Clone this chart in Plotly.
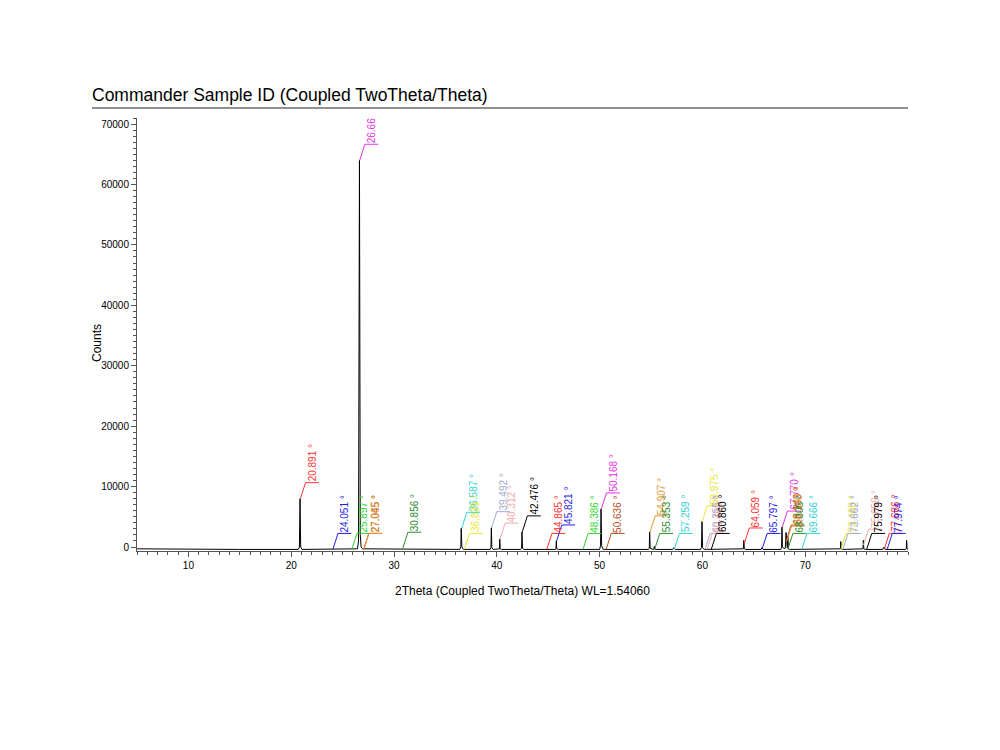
import plotly.graph_objects as go

# ---------------- data ----------------
# diffraction profile (2Theta in degrees, counts)
two_theta = [5.0, 10.0, 15.0, 20.70, 20.80, 20.86, 20.92, 21.05,
             26.45, 26.55, 26.64, 26.72, 26.80, 26.95,
             36.40, 36.50, 36.54, 36.60, 36.75,
             39.35, 39.43, 39.47, 39.52, 39.65,
             40.18, 40.26, 40.29, 40.33, 40.45,
             42.33, 42.41, 42.45, 42.50, 42.65,
             45.68, 45.76, 45.79, 45.83, 46.00,
             50.00, 50.09, 50.14, 50.20, 50.35,
             54.75, 54.83, 54.87, 54.92, 55.20, 55.29, 55.32, 55.37, 55.50,
             57.10, 57.23, 57.35,
             59.82, 59.91, 59.96, 60.02, 60.15,
             63.90, 63.99, 64.03, 64.08, 64.20,
             65.70, 65.79, 65.90,
             67.62, 67.70, 67.74, 67.79, 67.95, 68.06, 68.14, 68.20, 68.26, 68.31, 68.37, 68.50,
             73.35, 73.43, 73.46, 73.50, 73.65,
             75.55, 75.62, 75.66, 75.70, 75.85,
             77.55, 77.67, 77.80,
             79.75, 79.83, 79.87, 79.91, 80.0]
counts = [-300, -380, -400, -400, 0, 8000, 0, -400,
          -300, 1000, 64000, 2000, 0, -300,
          -400, 0, 3100, 0, -400,
          -400, -100, 3200, -100, -400,
          -400, -300, 1300, -300, -400,
          -400, -200, 2500, -200, -400,
          -400, -300, 1000, -300, -400,
          -400, 200, 6300, 200, -400,
          -400, -200, 2500, -200, -400, -350, 100, -350, -400,
          -400, -100, -400,
          -400, -100, 4200, -100, -400,
          -400, -300, 1100, -300, -400,
          -400, -100, -400,
          -400, -100, 3300, 0, -300, -200, 2400, 0, -100, 1800, -300, -400,
          -400, -300, 900, -300, -400,
          -400, -300, 1100, -300, -400,
          -400, 0, -400,
          -400, -300, 1100, -300, -400]

# peak labels
label_pos = [20.891, 24.051, 25.897, 26.664, 27.045, 27.065, 30.856,
             36.587, 36.835, 39.492, 40.312, 42.476,
             44.865, 45.821, 48.386, 50.168, 50.636, 54.907, 55.353,
             57.259, 59.975, 60.255, 60.460, 60.860,
             64.059, 65.797, 67.770, 68.143, 68.180, 68.305, 69.666,
             73.468, 73.662, 75.659, 75.979, 77.686, 77.974]
label_text = ["20.891 °", "24.051 °", "25.897 °", "26.66", "27.045 °", "27.065 °", "30.856 °",
              "36.587 °", "36.835 °", "39.492 °", "40.312 °", "42.476 °",
              "44.865 °", "45.821 °", "48.386 °", "50.168 °", "50.636 °", "54.907 °", "55.353 °",
              "57.259 °", "59.975 °", "60.255 °", "60.460 °", "60.860 °",
              "64.059 °", "65.797 °", "67.770 °", "68.143 °", "68.180 °", "68.305 °", "69.666 °",
              "73.468 °", "73.662 °", "75.659 °", "75.979 °", "77.686 °", "77.974 °"]
label_start = [8000, -400, -400, 64000, -400, -400, -200,
               3100, -400, 3200, 1300, 2500,
               -400, 1000, -400, 6300, -400, 2500, -400,
               -400, 4200, -400, -400, -400,
               500, -400, 3300, 1000, 800, -400, -400,
               -400, -400, 300, -400, -400, -400]

palette = ["#ff3030", "#1e1ee6", "#32d232", "#e632e6", "#b4501e", "#e69632",
           "#2d8c2d", "#32d2d2", "#e6e632", "#a0aad2", "#f0aaaa", "#000000"]
label_color_idx = [0, 1, 2, 3, 4, 5, 6,
                   7, 8, 9, 10, 11,
                   0, 1, 2, 3, 4, 5, 6,
                   7, 8, 9, 10, 11,
                   0, 1, 3, 4, 5, 6, 7,
                   8, 9, 10, 11, 0, 1]

# ---------------- figure ----------------
FONT = "Liberation Sans, Arial, Helvetica, sans-serif"
fig = go.Figure()

fig.add_trace(go.Scatter(x=two_theta, y=counts, mode="lines",
                         line=dict(color="#000000", width=1), showlegend=False,
                         hoverinfo="skip"))

SLANT_DX = 0.5
SLANT_DY = 2650
HOR_LEN = 1.3
TEXT_DX = 1.15

annotations = []
for pos, txt, st, ci in zip(label_pos, label_text, label_start, label_color_idx):
    col = palette[ci]
    h = st + SLANT_DY
    fig.add_trace(go.Scatter(x=[pos, pos + SLANT_DX, pos + SLANT_DX + HOR_LEN],
                             y=[st, h, h], mode="lines",
                             line=dict(color=col, width=1), showlegend=False,
                             hoverinfo="skip"))
    annotations.append(dict(x=pos + TEXT_DX, y=h, xref="x", yref="y", text=txt,
                            showarrow=False, textangle=-90, xanchor="center",
                            yanchor="bottom", font=dict(family=FONT, size=10, color=col),
                            borderpad=0))

L, R, T, B = 137, 92, 118, 199
W, H = 1000, 750
pw, ph = W - L - R, H - T - B


def px(xp):
    return (xp - L) / pw


def py(yp):
    return (H - B - yp) / ph


annotations.append(dict(x=px(90), y=py(95), xref="paper", yref="paper",
                        text="Commander Sample ID (Coupled TwoTheta/Theta)",
                        showarrow=False, xanchor="left", yanchor="middle",
                        font=dict(family=FONT, size=17.5, color="#000000")))
annotations.append(dict(x=0.5, y=py(591), xref="paper", yref="paper",
                        text="2Theta (Coupled TwoTheta/Theta) WL=1.54060",
                        showarrow=False, xanchor="center", yanchor="middle",
                        font=dict(family=FONT, size=12, color="#000000")))
annotations.append(dict(x=px(97), y=py(343), xref="paper", yref="paper",
                        text="Counts", textangle=-90,
                        showarrow=False, xanchor="center", yanchor="middle",
                        font=dict(family=FONT, size=12, color="#000000")))

fig.update_layout(
    width=W, height=H,
    margin=dict(l=L, r=R, t=T, b=B, pad=0),
    paper_bgcolor="white", plot_bgcolor="white",
    showlegend=False,
    annotations=annotations,
    shapes=[dict(type="line", xref="paper", yref="paper",
                 x0=px(92), x1=px(908), y0=py(108), y1=py(108),
                 line=dict(color="#222222", width=1))],
    xaxis=dict(range=[5, 80], tickvals=[10, 20, 30, 40, 50, 60, 70],
               ticks="outside", ticklen=5, tickcolor="#555555", tickwidth=1,
               showline=True, linecolor="#555555", linewidth=1,
               showgrid=False, zeroline=False,
               tickfont=dict(family=FONT, size=10, color="#000000"),
               minor=dict(dtick=1, tick0=0, ticks="outside", ticklen=3,
                          tickcolor="#555555", showgrid=False)),
    yaxis=dict(range=[-660, 71000], tickvals=[0, 10000, 20000, 30000, 40000, 50000, 60000, 70000],
               ticktext=["0", "10000", "20000", "30000", "40000", "50000", "60000", "70000"],
               ticks="outside", ticklen=5, tickcolor="#555555", tickwidth=1,
               showline=True, linecolor="#555555", linewidth=1,
               showgrid=False, zeroline=False,
               tickfont=dict(family=FONT, size=10, color="#000000"),
               minor=dict(dtick=1000, tick0=0, ticks="outside", ticklen=3,
                          tickcolor="#555555", showgrid=False)),
)

fig.write_html("out.html")
